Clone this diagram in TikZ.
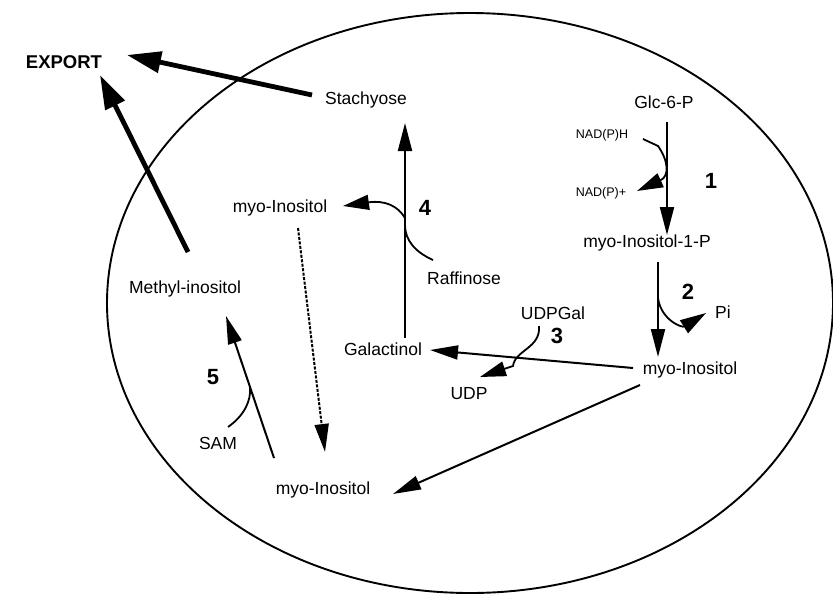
\documentclass[tikz,border=0pt]{standalone}
\usepackage{fontspec}
\setmainfont{Liberation Sans}
\usetikzlibrary{arrows.meta}
\begin{document}
\begin{tikzpicture}[x=1pt,y=-1pt,
  lab/.style={font=\fontsize{17.5}{20}\selectfont, inner sep=0pt},
  small/.style={font=\fontsize{12.5}{14}\selectfont, inner sep=0pt},
  num/.style={font=\fontsize{22}{24}\selectfont\bfseries, inner sep=0pt},
  rxn/.style={line width=2pt, -{Triangle[length=28pt,width=14pt]}},
  side/.style={line width=1.8pt, -{Triangle[length=26pt,width=15pt]}},
  hook/.style={line width=1.8pt},
  export/.style={line width=4.8pt, -{Triangle[length=34pt,width=21pt]}},
  dotted arrow/.style={line width=2pt, dash pattern=on 3pt off 1.5pt, -{Triangle[length=28pt,width=14pt]}},
]
\useasboundingbox (0,0) rectangle (833,595);
\draw[line width=1.9pt] (470,303) ellipse [x radius=363, y radius=290];

% labels
\node[font=\fontsize{18.5}{20}\selectfont\bfseries, inner sep=0pt] (exp) at (64,62) {EXPORT};
\node[lab] (stach) at (366,100) {Stachyose};
\node[lab] (glc) at (664,102) {Glc-6-P};
\node[small] (nadh) at (602,135) {NAD(P)H};
\node[small] (nadp) at (601,193) {NAD(P)+};
\node[lab] (mi1p) at (647,243) {myo-Inositol-1-P};
\node[lab] (pi) at (723,312) {Pi};
\node[lab] (miR) at (690,370) {myo-Inositol};
\node[lab] (udpgal) at (553,313) {UDPGal};
\node[lab] (udp) at (469,394) {UDP};
\node[lab] (gal) at (383,349) {Galactinol};
\node[lab] (raf) at (464,278) {Raffinose};
\node[lab] (miT) at (280,208) {myo-Inositol};
\node[lab] (meth) at (185,289) {Methyl-inositol};
\node[lab] (sam) at (218,443) {SAM};
\node[lab] (miB) at (323,490) {myo-Inositol};

% reaction numbers
\node[num] (n1) at (711,181) {1};
\node[num] (n2) at (688,292) {2};
\node[num] (n3) at (557,336) {3};
\node[num] (n4) at (425,208) {4};
\node[num] (n5) at (213,377) {5};

% connector end points
\coordinate (glcS) at (667,122);
\coordinate (mi1pN) at (667,235);
\coordinate (mi1pS) at (658,262);
\coordinate (miRN) at (658,357);
\coordinate (miRW) at (633,368);
\coordinate (galE) at (430,350);
\coordinate (galN) at (405,338);
\coordinate (stachS) at (405,123);
\coordinate (miBN) at (274,458);
\coordinate (methS) at (226,316);
\coordinate (miTS) at (298,228);
\coordinate (miBT) at (325,452);
\coordinate (miRSW) at (640,385);
\coordinate (miBE) at (393,494);
\coordinate (stachW) at (312,95);
\coordinate (expE) at (127,55);
\coordinate (methN) at (188,252);
\coordinate (expS) at (100,75);
\coordinate (nadhE) at (643,139);
\coordinate (nadpE) at (637,191);
\coordinate (piW) at (706,313);
\coordinate (udpgalS) at (539,326);
\coordinate (udpNE) at (480,377);
\coordinate (rafW) at (433,260);
\coordinate (miTE) at (343,206);
\coordinate (samN) at (228,427);

% main reactions
\draw[rxn] (glcS) -- (mi1pN);
\draw[rxn] (mi1pS) -- (miRN);
\draw[rxn] (miRW) -- (galE);
\draw[rxn] (galN) -- (stachS);
\draw[rxn] (miBN) -- (methS);
\draw[rxn] (miRSW) -- (miBE);
\draw[dotted arrow] (miTS) -- (miBT);

% co-substrates
\draw[side] (nadhE) -- (658,146) .. controls (668,160) and (670,176) .. (nadpE);
\draw[side] (mi1pS |- 0,298) .. controls (661,320) and (682,328) .. (piW);
\draw[side] (udpgalS) .. controls (541,348) and (515,350) .. (513,366) -- (udpNE);
\draw[side] (rafW) .. controls (415,252) and (405,240) .. (405,225) -- (405,218) .. controls (398,206) and (385,200) .. (miTE);
\draw[hook] (samN) .. controls (245,415) and (251,400) .. (250,388);

% export
\draw[export] (stachW) -- (expE);
\draw[export] (methN) -- (expS);
\end{tikzpicture}
\end{document}
